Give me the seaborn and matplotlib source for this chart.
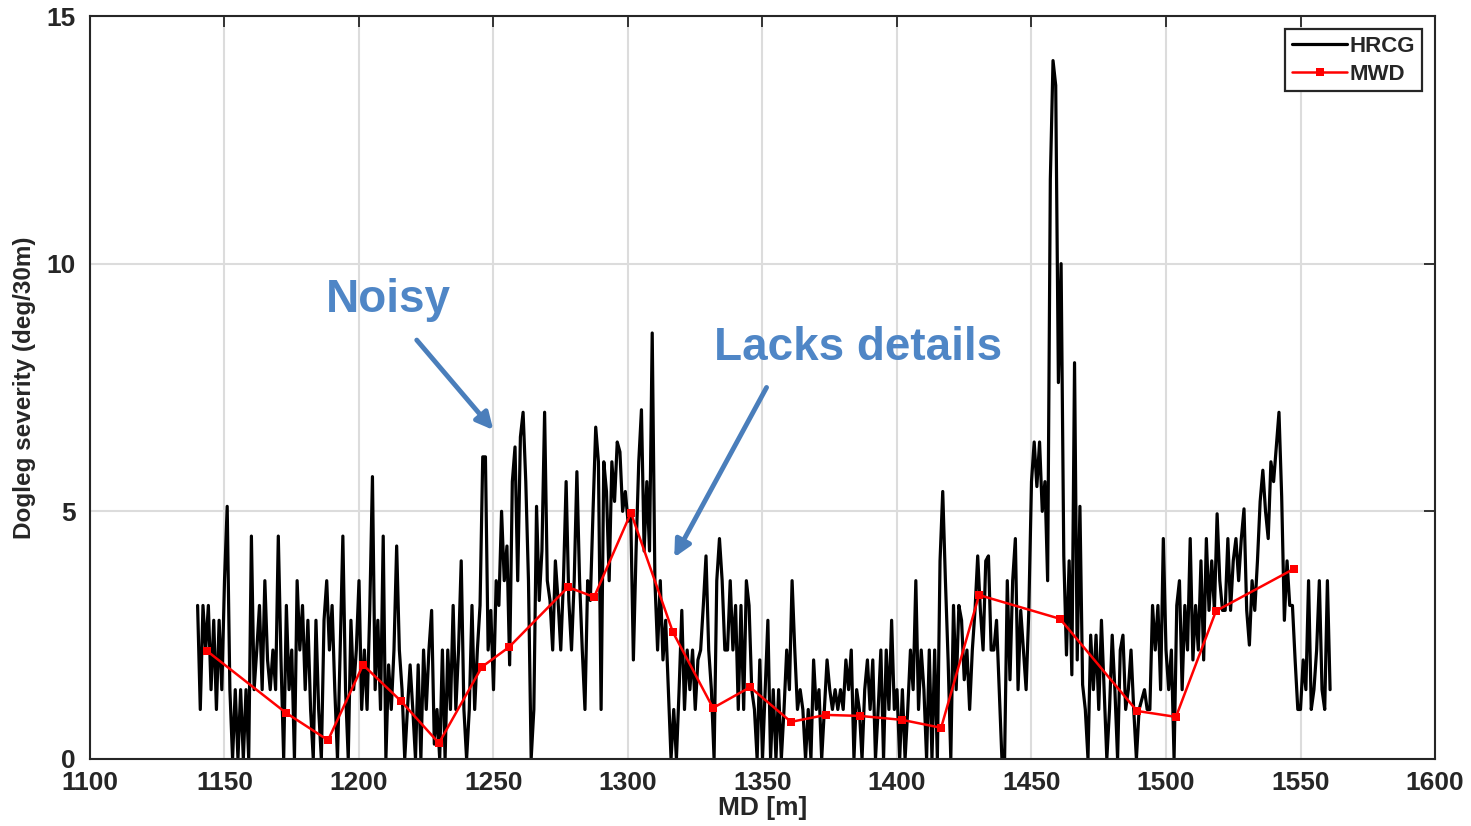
import numpy as np
import pandas as pd
import matplotlib
matplotlib.use("Agg")
import matplotlib.pyplot as plt
import seaborn as sns

# ---------------- data ----------------
# HRCG dogleg severity, 1 m spacing, split in segments (start MD, values)
hrcg_1140 = [3.1, 1.0, 3.1, 2.2, 3.1, 1.4, 2.8, 1.0, 2.8, 1.4, 3.6, 5.1, 1.4, 0.0, 1.4, 0.0, 1.4, 0.0, 1.4, 0.0,
             4.5, 1.4, 2.2, 3.1, 1.4, 3.6, 2.0, 1.4, 2.2, 1.4, 4.5, 2.0, 0.0, 3.1, 1.4, 2.2, 0.0, 3.6, 2.2, 3.1,
             1.4, 2.8, 1.0, 0.0, 2.8, 1.0, 0.0, 2.8, 3.6, 2.2, 3.1, 1.4, 0.0, 2.2, 4.5, 1.4, 0.0, 2.8]
hrcg_1198 = [1.4, 2.2, 3.6, 1.0, 2.2, 1.0, 3.0, 5.7, 1.4, 2.8, 1.0, 4.5, 0.0, 1.9, 1.0, 2.2, 4.3, 2.2, 1.4, 0.0,
             1.0, 1.9, 1.0, 0.0, 1.9, 0.0, 2.2, 1.0, 2.2, 3.0, 0.3, 1.0, 0.0, 2.2, 0.0, 2.2, 1.0, 3.1, 1.0, 2.2,
             4.0, 1.0, 0.0, 1.0, 3.1, 1.0, 2.2, 3.1, 6.1, 6.1, 2.2, 3.0, 1.4, 3.6, 3.1, 5.0, 3.6, 4.3, 1.9, 5.6,
             6.3, 3.6, 6.5, 7.0, 5.6, 3.6, 0.0]
hrcg_1265 = [1.0, 5.1, 3.2, 4.2, 7.0, 3.6, 3.2, 2.2, 4.0, 3.2, 2.2, 3.6, 5.6, 3.2, 2.2, 3.6, 5.8, 3.6, 2.2, 1.0,
             3.6, 3.2, 5.0, 6.7, 6.0, 1.0, 6.0, 5.4, 3.6, 6.0, 5.2, 6.4, 6.2, 5.0, 5.4, 4.8, 5.0, 2.0, 4.2, 6.0,
             7.05, 4.2, 5.6, 4.2, 8.6, 3.6, 2.2, 3.6, 2.0, 2.8, 1.4, 0.0, 1.0, 0.0, 1.4, 3.0, 1.0, 2.2, 1.4, 2.2,
             1.0, 2.0]
hrcg_1327 = [2.2, 3.1, 4.1, 2.2, 1.4, 0.0, 3.6, 4.45, 3.6, 2.2, 2.2, 3.6, 2.2, 3.1, 1.0, 3.1, 1.0, 3.6, 3.1, 1.4,
             1.0, 0.0, 2.0, 0.0, 1.4, 2.8, 0.0, 1.4, 0.0, 1.4, 0.0, 1.0, 2.2, 1.4, 3.6, 2.2, 1.0, 1.4, 1.0, 0.0,
             1.0, 0.0, 2.0, 1.0, 1.4, 0.0, 1.0, 2.0, 1.4, 1.0, 1.4, 1.0, 1.4, 1.0, 2.0, 1.4, 2.2, 0.0, 1.4, 1.0,
             0.0, 1.4, 2.0, 1.0]
hrcg_1391 = [2.0, 0.0, 1.0, 2.2, 0.0, 2.2, 1.0, 2.8, 1.0, 1.4, 0.0, 1.4, 0.0, 1.0, 2.2, 1.4, 3.6, 1.0, 2.2, 1.4,
             0.0, 2.2, 0.0, 2.2, 0.0, 4.0, 5.4, 3.6, 2.0, 0.0, 3.1, 1.4, 3.1, 2.8, 1.6, 2.2, 1.0, 2.2, 3.0, 4.1,
             3.0, 2.2, 4.0, 4.1, 2.2, 2.2, 2.8, 1.4, 0.0, 0.0, 3.6, 1.6, 3.6, 4.45, 1.4, 3.0, 2.2, 1.4, 3.0, 5.6,
             6.4, 5.5]
hrcg_1453 = [6.4, 5.0, 5.6, 3.6, 11.7, 14.1, 13.6, 7.6, 10.0, 4.1, 2.1, 4.0, 1.7, 8.0, 2.0, 5.1, 1.5, 1.0, 0.0, 2.5,
             1.4, 2.5, 1.0, 2.8, 1.4, 0.0, 1.0, 2.5, 1.4, 0.0, 2.2, 2.5, 1.0, 1.4, 2.2, 1.0, 0.0, 1.0]
hrcg_1491 = [1.2, 1.4, 1.0, 1.0, 3.1, 2.2, 3.1, 1.4, 4.45, 2.2, 1.4, 2.2, 0.0, 3.1, 3.6, 1.4, 3.1, 2.2, 4.45, 2.0,
             3.1, 2.2, 4.0, 2.0, 4.45, 3.0, 4.0, 3.0, 4.95, 3.6, 3.0, 3.0, 4.45, 3.0, 4.0, 4.45, 3.6, 4.45, 5.05, 3.0,
             2.3, 3.6, 3.0, 4.0, 5.2, 5.83, 5.0, 4.45, 6.0, 5.6, 6.3, 7.0, 5.3, 2.8, 4.0, 3.1, 3.1, 2.0, 1.0, 1.0,
             2.0, 1.4, 3.6, 1.0, 1.4, 2.2, 3.6, 1.4, 1.0, 3.6, 1.4]
hrcg_segments = [(1140, hrcg_1140), (1198, hrcg_1198), (1265, hrcg_1265), (1327, hrcg_1327),
                 (1391, hrcg_1391), (1453, hrcg_1453), (1491, hrcg_1491)]

# MWD survey stations
mwd_md = [1143.5, 1172.9, 1188.5, 1201.5, 1215.6, 1229.7, 1245.7, 1255.8, 1277.7, 1287.4, 1301.1, 1316.7,
          1331.6, 1345.4, 1360.6, 1373.6, 1386.2, 1401.9, 1416.4, 1430.5, 1460.6, 1489.2, 1503.7, 1518.6, 1547.6]
mwd_dls = [2.18, 0.93, 0.38, 1.90, 1.17, 0.32, 1.86, 2.26, 3.47, 3.27, 4.97, 2.56,
           1.03, 1.45, 0.75, 0.89, 0.87, 0.79, 0.63, 3.31, 2.83, 0.97, 0.85, 2.99, 3.84]

x_ticks = [1100, 1150, 1200, 1250, 1300, 1350, 1400, 1450, 1500, 1550, 1600]
y_ticks = [0, 5, 10, 15]

# ---------------- build frames ----------------
md_list, dls_list = [], []
for start, vals in hrcg_segments:
    for i, v in enumerate(vals):
        md_list.append(start + i)
        dls_list.append(v)
hrcg_df = pd.DataFrame({"MD": md_list, "DLS": dls_list})
mwd_df = pd.DataFrame({"MD": mwd_md, "DLS": mwd_dls})

# ---------------- style ----------------
sns.set_style("white")
plt.rcParams["font.family"] = ["Liberation Sans", "DejaVu Sans"]

fig = plt.figure(figsize=(14.71, 8.26), dpi=100)
ax = fig.add_axes([90 / 1471, 1 - 759 / 826, (1435 - 90) / 1471, (759 - 16) / 826])

sns.lineplot(data=hrcg_df, x="MD", y="DLS", ax=ax, color="black", lw=2.3,
             label="HRCG", sort=False, estimator=None)
sns.lineplot(data=mwd_df, x="MD", y="DLS", ax=ax, color="#ff0000", lw=1.8,
             marker="s", markersize=6, markeredgewidth=0, label="MWD", sort=False, estimator=None)

ax.set_xlim(1100, 1600)
ax.set_ylim(0, 15)
ax.set_xticks(x_ticks)
ax.set_yticks(y_ticks)
ax.grid(True, color="#dcdcdc", lw=1.5)
ax.set_axisbelow(True)
for s in ax.spines.values():
    s.set_visible(True)
    s.set_color("#262626")
    s.set_linewidth(1.5)
ax.tick_params(axis="both", direction="in", length=8, width=1.3, colors="#262626",
               top=True, right=True, labelsize=19)
ax.tick_params(axis="x", pad=9)
ax.tick_params(axis="y", pad=10)
for lab in ax.get_xticklabels() + ax.get_yticklabels():
    lab.set_fontweight("bold")
    lab.set_color("#262626")

ax.set_xlabel("MD [m]", fontsize=19, fontweight="bold", color="#262626", labelpad=0)
ax.set_ylabel("Dogleg severity (deg/30m)", fontsize=17.5, fontweight="bold", color="#262626", labelpad=8)

leg = ax.legend(loc="upper right", fontsize=16, frameon=True, fancybox=False, edgecolor="#262626",
                handlelength=2.5, handletextpad=0.1, borderpad=0.3, labelspacing=0.3,
                borderaxespad=0.6, framealpha=1)
leg.get_frame().set_linewidth(1.6)
for t in leg.get_texts():
    t.set_fontweight("bold")

blue = "#4F86C6"
ax.annotate("", xy=(1250.6, 6.6), xytext=(1220.8, 8.5),
            arrowprops=dict(arrowstyle="-|>", color="#4A7EBB", lw=3.5, mutation_scale=25))
ax.text(1210.8, 9.27, "Noisy", fontsize=33, fontweight="bold", color=blue, ha="center", va="center")
ax.annotate("", xy=(1316.7, 4.02), xytext=(1352, 7.55),
            arrowprops=dict(arrowstyle="-|>", color="#4A7EBB", lw=3.5, mutation_scale=25))
ax.text(1385.5, 8.3, "Lacks details", fontsize=33, fontweight="bold", color=blue, ha="center", va="center")

fig.savefig("out.png", dpi=100)
